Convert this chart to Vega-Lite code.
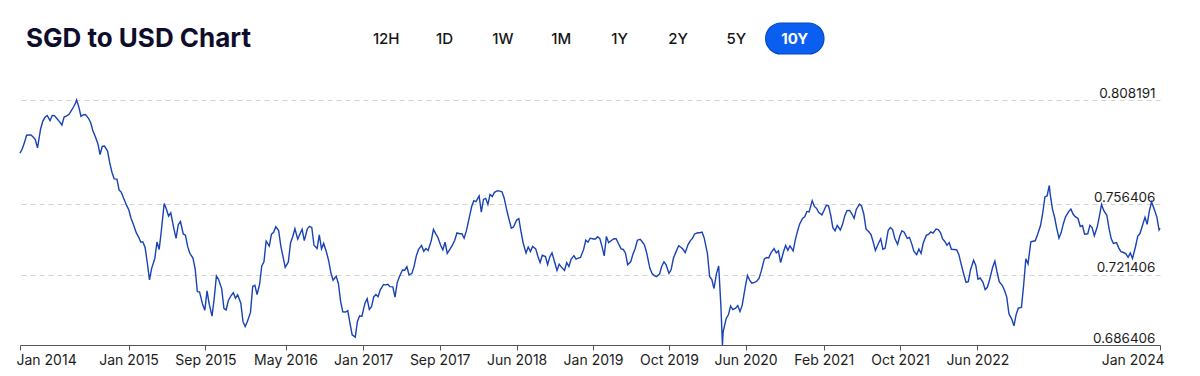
{
  "$schema": "https://vega.github.io/schema/vega-lite/v6.json",
  "padding": {"left": 16, "top": 22, "right": 40, "bottom": 8},
  "background": "white",
  "config": {"view": {"stroke": null}, "font": "Inter"},
  "datasets": {
    "buttons": [
      {"label": "12H", "selected": false}, {"label": "1D", "selected": false}, {"label": "1W", "selected": false},
      {"label": "1M", "selected": false}, {"label": "1Y", "selected": false}, {"label": "2Y", "selected": false},
      {"label": "5Y", "selected": false}, {"label": "10Y", "selected": true}
    ],
    "rates": [
{"date":"2014-01-25","rate":0.7818},{"date":"2014-02-01","rate":0.7838},{"date":"2014-02-08","rate":0.7869},{"date":"2014-02-15","rate":0.7907},{"date":"2014-02-22","rate":0.7908},
{"date":"2014-03-01","rate":0.7908},{"date":"2014-03-08","rate":0.7898},{"date":"2014-03-15","rate":0.7885},{"date":"2014-03-22","rate":0.7844},
{"date":"2014-04-01","rate":0.7939},{"date":"2014-04-08","rate":0.7977},{"date":"2014-04-15","rate":0.7996},{"date":"2014-04-22","rate":0.8005},
{"date":"2014-05-01","rate":0.7979},{"date":"2014-05-08","rate":0.8005},{"date":"2014-05-15","rate":0.8004},{"date":"2014-05-22","rate":0.7991},
{"date":"2014-06-01","rate":0.7973},{"date":"2014-06-08","rate":0.7957},{"date":"2014-06-15","rate":0.7997},{"date":"2014-06-22","rate":0.8002},
{"date":"2014-07-01","rate":0.8011},{"date":"2014-07-08","rate":0.8029},{"date":"2014-07-15","rate":0.8047},{"date":"2014-07-22","rate":0.8068},{"date":"2014-07-25","rate":0.808191},
{"date":"2014-08-01","rate":0.8048},{"date":"2014-08-08","rate":0.8001},{"date":"2014-08-15","rate":0.8008},{"date":"2014-08-22","rate":0.8010},
{"date":"2014-09-01","rate":0.7991},{"date":"2014-09-08","rate":0.7969},{"date":"2014-09-15","rate":0.7929},{"date":"2014-09-22","rate":0.7903},
{"date":"2014-10-01","rate":0.7865},{"date":"2014-10-08","rate":0.7811},{"date":"2014-10-15","rate":0.7851},{"date":"2014-10-22","rate":0.7853},
{"date":"2014-11-01","rate":0.7828},{"date":"2014-11-08","rate":0.7769},{"date":"2014-11-15","rate":0.7723},{"date":"2014-11-22","rate":0.7690},
{"date":"2014-12-01","rate":0.7689},{"date":"2014-12-08","rate":0.7634},{"date":"2014-12-15","rate":0.7623},{"date":"2014-12-22","rate":0.7595},
{"date":"2015-01-01","rate":0.7558},{"date":"2015-01-08","rate":0.7535},{"date":"2015-01-15","rate":0.7494},{"date":"2015-01-22","rate":0.7466},
{"date":"2015-02-01","rate":0.7421},{"date":"2015-02-08","rate":0.7402},{"date":"2015-02-15","rate":0.7376},{"date":"2015-02-22","rate":0.7376},
{"date":"2015-03-01","rate":0.7349},{"date":"2015-03-08","rate":0.7273},{"date":"2015-03-15","rate":0.7188},{"date":"2015-03-22","rate":0.7245},
{"date":"2015-04-01","rate":0.7294},{"date":"2015-04-08","rate":0.7376},{"date":"2015-04-15","rate":0.7339},{"date":"2015-04-22","rate":0.7433},
{"date":"2015-05-01","rate":0.7567},{"date":"2015-05-08","rate":0.7540},{"date":"2015-05-15","rate":0.7505},{"date":"2015-05-22","rate":0.7521},
{"date":"2015-06-01","rate":0.7443},{"date":"2015-06-08","rate":0.7394},{"date":"2015-06-15","rate":0.7462},{"date":"2015-06-22","rate":0.7478},
{"date":"2015-07-01","rate":0.7416},{"date":"2015-07-08","rate":0.7410},{"date":"2015-07-15","rate":0.7354},{"date":"2015-07-22","rate":0.7320},
{"date":"2015-08-01","rate":0.7296},{"date":"2015-08-08","rate":0.7243},{"date":"2015-08-15","rate":0.7129},{"date":"2015-08-22","rate":0.7128},
{"date":"2015-09-01","rate":0.7065},{"date":"2015-09-08","rate":0.7037},{"date":"2015-09-15","rate":0.7133},{"date":"2015-09-22","rate":0.7067},
{"date":"2015-10-01","rate":0.7008},{"date":"2015-10-08","rate":0.7096},{"date":"2015-10-15","rate":0.7208},{"date":"2015-10-22","rate":0.7190},
{"date":"2015-11-01","rate":0.7143},{"date":"2015-11-08","rate":0.7046},{"date":"2015-11-15","rate":0.7038},{"date":"2015-11-22","rate":0.7084},
{"date":"2015-12-01","rate":0.7110},{"date":"2015-12-08","rate":0.7124},{"date":"2015-12-15","rate":0.7097},{"date":"2015-12-22","rate":0.7114},
{"date":"2016-01-01","rate":0.7072},{"date":"2016-01-08","rate":0.6980},{"date":"2016-01-15","rate":0.6956},{"date":"2016-01-22","rate":0.6981},
{"date":"2016-02-01","rate":0.7026},{"date":"2016-02-08","rate":0.7155},{"date":"2016-02-15","rate":0.7161},{"date":"2016-02-22","rate":0.7115},
{"date":"2016-03-01","rate":0.7165},{"date":"2016-03-08","rate":0.7257},{"date":"2016-03-15","rate":0.7278},{"date":"2016-03-22","rate":0.7381},
{"date":"2016-04-01","rate":0.7356},{"date":"2016-04-08","rate":0.7415},{"date":"2016-04-15","rate":0.7424},{"date":"2016-04-22","rate":0.7452},
{"date":"2016-05-01","rate":0.7433},{"date":"2016-05-08","rate":0.7356},{"date":"2016-05-15","rate":0.7303},{"date":"2016-05-22","rate":0.7250},
{"date":"2016-06-01","rate":0.7277},{"date":"2016-06-08","rate":0.7371},{"date":"2016-06-15","rate":0.7402},{"date":"2016-06-22","rate":0.7442},
{"date":"2016-07-01","rate":0.7390},{"date":"2016-07-08","rate":0.7416},{"date":"2016-07-15","rate":0.7439},{"date":"2016-07-22","rate":0.7383},
{"date":"2016-08-01","rate":0.7443},{"date":"2016-08-08","rate":0.7454},{"date":"2016-08-15","rate":0.7447},{"date":"2016-08-22","rate":0.7360},
{"date":"2016-09-01","rate":0.7344},{"date":"2016-09-08","rate":0.7412},{"date":"2016-09-15","rate":0.7342},{"date":"2016-09-22","rate":0.7369},
{"date":"2016-10-01","rate":0.7325},{"date":"2016-10-08","rate":0.7282},{"date":"2016-10-15","rate":0.7223},{"date":"2016-10-22","rate":0.7186},
{"date":"2016-11-01","rate":0.7206},{"date":"2016-11-08","rate":0.7170},{"date":"2016-11-15","rate":0.7082},{"date":"2016-11-22","rate":0.7029},
{"date":"2016-12-01","rate":0.7028},{"date":"2016-12-08","rate":0.7035},{"date":"2016-12-15","rate":0.6973},{"date":"2016-12-22","rate":0.6915},
{"date":"2017-01-01","rate":0.6903},{"date":"2017-01-08","rate":0.6982},{"date":"2017-01-15","rate":0.7009},{"date":"2017-01-22","rate":0.7006},
{"date":"2017-02-01","rate":0.7072},{"date":"2017-02-08","rate":0.7094},{"date":"2017-02-15","rate":0.7041},{"date":"2017-02-22","rate":0.7054},
{"date":"2017-03-01","rate":0.7103},{"date":"2017-03-08","rate":0.7115},{"date":"2017-03-15","rate":0.7104},{"date":"2017-03-22","rate":0.7138},
{"date":"2017-04-01","rate":0.7164},{"date":"2017-04-08","rate":0.7163},{"date":"2017-04-15","rate":0.7166},{"date":"2017-04-22","rate":0.7154},
{"date":"2017-05-01","rate":0.7153},{"date":"2017-05-08","rate":0.7102},{"date":"2017-05-15","rate":0.7173},{"date":"2017-05-22","rate":0.7203},
{"date":"2017-06-01","rate":0.7237},{"date":"2017-06-08","rate":0.7236},{"date":"2017-06-15","rate":0.7253},{"date":"2017-06-22","rate":0.7212},
{"date":"2017-07-01","rate":0.7220},{"date":"2017-07-08","rate":0.7255},{"date":"2017-07-15","rate":0.7306},{"date":"2017-07-22","rate":0.7338},
{"date":"2017-08-01","rate":0.7359},{"date":"2017-08-08","rate":0.7330},{"date":"2017-08-15","rate":0.7344},{"date":"2017-08-22","rate":0.7334},
{"date":"2017-09-01","rate":0.7383},{"date":"2017-09-08","rate":0.7439},{"date":"2017-09-15","rate":0.7418},{"date":"2017-09-22","rate":0.7400},
{"date":"2017-10-01","rate":0.7360},{"date":"2017-10-08","rate":0.7337},{"date":"2017-10-15","rate":0.7375},{"date":"2017-10-22","rate":0.7319},
{"date":"2017-11-01","rate":0.7343},{"date":"2017-11-08","rate":0.7362},{"date":"2017-11-15","rate":0.7385},{"date":"2017-11-22","rate":0.7421},
{"date":"2017-12-01","rate":0.7417},{"date":"2017-12-08","rate":0.7417},{"date":"2017-12-15","rate":0.7395},{"date":"2017-12-22","rate":0.7430},
{"date":"2018-01-01","rate":0.7501},{"date":"2018-01-08","rate":0.7551},{"date":"2018-01-15","rate":0.7581},{"date":"2018-01-22","rate":0.7577},
{"date":"2018-02-01","rate":0.7605},{"date":"2018-02-08","rate":0.7525},{"date":"2018-02-15","rate":0.7588},{"date":"2018-02-22","rate":0.7593},
{"date":"2018-03-01","rate":0.7563},{"date":"2018-03-08","rate":0.7613},{"date":"2018-03-15","rate":0.7602},{"date":"2018-03-22","rate":0.7623},
{"date":"2018-04-01","rate":0.7631},{"date":"2018-04-08","rate":0.7629},{"date":"2018-04-15","rate":0.7626},{"date":"2018-04-22","rate":0.7595},
{"date":"2018-05-01","rate":0.7530},{"date":"2018-05-08","rate":0.7486},{"date":"2018-05-15","rate":0.7445},{"date":"2018-05-22","rate":0.7451},
{"date":"2018-06-01","rate":0.7485},{"date":"2018-06-08","rate":0.7492},{"date":"2018-06-15","rate":0.7426},{"date":"2018-06-22","rate":0.7370},
{"date":"2018-07-01","rate":0.7321},{"date":"2018-07-08","rate":0.7351},{"date":"2018-07-15","rate":0.7329},{"date":"2018-07-22","rate":0.7354},
{"date":"2018-08-01","rate":0.7342},{"date":"2018-08-08","rate":0.7304},{"date":"2018-08-15","rate":0.7274},{"date":"2018-08-22","rate":0.7310},
{"date":"2018-09-01","rate":0.7304},{"date":"2018-09-08","rate":0.7264},{"date":"2018-09-15","rate":0.7302},{"date":"2018-09-22","rate":0.7322},
{"date":"2018-10-01","rate":0.7273},{"date":"2018-10-08","rate":0.7235},{"date":"2018-10-15","rate":0.7266},{"date":"2018-10-22","rate":0.7251},
{"date":"2018-11-01","rate":0.7235},{"date":"2018-11-08","rate":0.7274},{"date":"2018-11-15","rate":0.7254},{"date":"2018-11-22","rate":0.7290},
{"date":"2018-12-01","rate":0.7308},{"date":"2018-12-08","rate":0.7291},{"date":"2018-12-15","rate":0.7296},{"date":"2018-12-22","rate":0.7299},
{"date":"2019-01-01","rate":0.7338},{"date":"2019-01-08","rate":0.7385},{"date":"2019-01-15","rate":0.7375},{"date":"2019-01-22","rate":0.7395},
{"date":"2019-02-01","rate":0.7391},{"date":"2019-02-08","rate":0.7391},{"date":"2019-02-15","rate":0.7402},{"date":"2019-02-22","rate":0.7393},
{"date":"2019-03-01","rate":0.7353},{"date":"2019-03-08","rate":0.7307},{"date":"2019-03-15","rate":0.7404},{"date":"2019-03-22","rate":0.7373},
{"date":"2019-04-01","rate":0.7385},{"date":"2019-04-08","rate":0.7392},{"date":"2019-04-15","rate":0.7392},{"date":"2019-04-22","rate":0.7370},
{"date":"2019-05-01","rate":0.7342},{"date":"2019-05-08","rate":0.7339},{"date":"2019-05-15","rate":0.7320},{"date":"2019-05-22","rate":0.7263},
{"date":"2019-06-01","rate":0.7279},{"date":"2019-06-08","rate":0.7317},{"date":"2019-06-15","rate":0.7344},{"date":"2019-06-22","rate":0.7385},
{"date":"2019-07-01","rate":0.7389},{"date":"2019-07-08","rate":0.7376},{"date":"2019-07-15","rate":0.7360},{"date":"2019-07-22","rate":0.7320},
{"date":"2019-08-01","rate":0.7245},{"date":"2019-08-08","rate":0.7219},{"date":"2019-08-15","rate":0.7209},{"date":"2019-08-22","rate":0.7204},
{"date":"2019-09-01","rate":0.7217},{"date":"2019-09-08","rate":0.7256},{"date":"2019-09-15","rate":0.7277},{"date":"2019-09-22","rate":0.7262},
{"date":"2019-10-01","rate":0.7220},{"date":"2019-10-08","rate":0.7239},{"date":"2019-10-15","rate":0.7294},{"date":"2019-10-22","rate":0.7322},
{"date":"2019-11-01","rate":0.7357},{"date":"2019-11-08","rate":0.7350},{"date":"2019-11-15","rate":0.7340},{"date":"2019-11-22","rate":0.7323},
{"date":"2019-12-01","rate":0.7363},{"date":"2019-12-08","rate":0.7382},{"date":"2019-12-15","rate":0.7394},{"date":"2019-12-22","rate":0.7416},
{"date":"2020-01-01","rate":0.7422},{"date":"2020-01-08","rate":0.7422},{"date":"2020-01-15","rate":0.7425},{"date":"2020-01-22","rate":0.7394},
{"date":"2020-02-01","rate":0.7318},{"date":"2020-02-08","rate":0.7205},{"date":"2020-02-15","rate":0.7189},{"date":"2020-02-22","rate":0.7145},
{"date":"2020-03-01","rate":0.7220},{"date":"2020-03-08","rate":0.7257},{"date":"2020-03-15","rate":0.7058},{"date":"2020-03-20","rate":0.686406},{"date":"2020-03-22","rate":0.6928},
{"date":"2020-04-01","rate":0.6996},{"date":"2020-04-08","rate":0.7014},{"date":"2020-04-15","rate":0.7058},{"date":"2020-04-22","rate":0.7040},
{"date":"2020-05-01","rate":0.7047},{"date":"2020-05-08","rate":0.7060},{"date":"2020-05-15","rate":0.7031},{"date":"2020-05-22","rate":0.7061},
{"date":"2020-06-01","rate":0.7153},{"date":"2020-06-08","rate":0.7210},{"date":"2020-06-15","rate":0.7187},{"date":"2020-06-22","rate":0.7171},
{"date":"2020-07-01","rate":0.7175},{"date":"2020-07-08","rate":0.7182},{"date":"2020-07-15","rate":0.7195},{"date":"2020-07-22","rate":0.7231},
{"date":"2020-08-01","rate":0.7292},{"date":"2020-08-08","rate":0.7299},{"date":"2020-08-15","rate":0.7297},{"date":"2020-08-22","rate":0.7322},
{"date":"2020-09-01","rate":0.7343},{"date":"2020-09-08","rate":0.7322},{"date":"2020-09-15","rate":0.7332},{"date":"2020-09-22","rate":0.7274},
{"date":"2020-10-01","rate":0.7326},{"date":"2020-10-08","rate":0.7359},{"date":"2020-10-15","rate":0.7335},{"date":"2020-10-22","rate":0.7357},
{"date":"2020-11-01","rate":0.7332},{"date":"2020-11-08","rate":0.7387},{"date":"2020-11-15","rate":0.7430},{"date":"2020-11-22","rate":0.7466},
{"date":"2020-12-01","rate":0.7493},{"date":"2020-12-08","rate":0.7501},{"date":"2020-12-15","rate":0.7528},{"date":"2020-12-22","rate":0.7526},
{"date":"2021-01-01","rate":0.7581},{"date":"2021-01-08","rate":0.7553},{"date":"2021-01-15","rate":0.7543},{"date":"2021-01-22","rate":0.7522},
{"date":"2021-02-01","rate":0.7511},{"date":"2021-02-08","rate":0.7534},{"date":"2021-02-15","rate":0.7559},{"date":"2021-02-22","rate":0.7557},
{"date":"2021-03-01","rate":0.7511},{"date":"2021-03-08","rate":0.7447},{"date":"2021-03-15","rate":0.7432},{"date":"2021-03-22","rate":0.7458},
{"date":"2021-04-01","rate":0.7436},{"date":"2021-04-08","rate":0.7464},{"date":"2021-04-15","rate":0.7506},{"date":"2021-04-22","rate":0.7532},
{"date":"2021-05-01","rate":0.7533},{"date":"2021-05-08","rate":0.7515},{"date":"2021-05-15","rate":0.7494},{"date":"2021-05-22","rate":0.7538},
{"date":"2021-06-01","rate":0.7564},{"date":"2021-06-08","rate":0.7554},{"date":"2021-06-15","rate":0.7514},{"date":"2021-06-22","rate":0.7441},
{"date":"2021-07-01","rate":0.7427},{"date":"2021-07-08","rate":0.7413},{"date":"2021-07-15","rate":0.7376},{"date":"2021-07-22","rate":0.7334},
{"date":"2021-08-01","rate":0.7370},{"date":"2021-08-08","rate":0.7392},{"date":"2021-08-15","rate":0.7340},{"date":"2021-08-22","rate":0.7345},
{"date":"2021-09-01","rate":0.7434},{"date":"2021-09-08","rate":0.7448},{"date":"2021-09-15","rate":0.7438},{"date":"2021-09-22","rate":0.7395},
{"date":"2021-10-01","rate":0.7364},{"date":"2021-10-08","rate":0.7406},{"date":"2021-10-15","rate":0.7432},{"date":"2021-10-22","rate":0.7425},
{"date":"2021-11-01","rate":0.7394},{"date":"2021-11-08","rate":0.7399},{"date":"2021-11-15","rate":0.7368},{"date":"2021-11-22","rate":0.7330},
{"date":"2021-12-01","rate":0.7313},{"date":"2021-12-08","rate":0.7341},{"date":"2021-12-15","rate":0.7319},{"date":"2021-12-22","rate":0.7371},
{"date":"2022-01-01","rate":0.7410},{"date":"2022-01-08","rate":0.7414},{"date":"2022-01-15","rate":0.7426},{"date":"2022-01-22","rate":0.7420},
{"date":"2022-02-01","rate":0.7440},{"date":"2022-02-08","rate":0.7438},{"date":"2022-02-15","rate":0.7423},{"date":"2022-02-22","rate":0.7391},
{"date":"2022-03-01","rate":0.7379},{"date":"2022-03-08","rate":0.7360},{"date":"2022-03-15","rate":0.7373},{"date":"2022-03-22","rate":0.7340},
{"date":"2022-04-01","rate":0.7339},{"date":"2022-04-08","rate":0.7337},{"date":"2022-04-15","rate":0.7313},{"date":"2022-04-22","rate":0.7267},
{"date":"2022-05-01","rate":0.7213},{"date":"2022-05-08","rate":0.7175},{"date":"2022-05-15","rate":0.7179},{"date":"2022-05-22","rate":0.7237},
{"date":"2022-06-01","rate":0.7285},{"date":"2022-06-08","rate":0.7260},{"date":"2022-06-15","rate":0.7191},{"date":"2022-06-22","rate":0.7197},
{"date":"2022-07-01","rate":0.7176},{"date":"2022-07-08","rate":0.7139},{"date":"2022-07-15","rate":0.7151},{"date":"2022-07-22","rate":0.7187},
{"date":"2022-08-01","rate":0.7251},{"date":"2022-08-08","rate":0.7281},{"date":"2022-08-15","rate":0.7227},{"date":"2022-08-22","rate":0.7179},
{"date":"2022-09-01","rate":0.7159},{"date":"2022-09-08","rate":0.7135},{"date":"2022-09-15","rate":0.7102},{"date":"2022-09-22","rate":0.7019},
{"date":"2022-10-01","rate":0.6993},{"date":"2022-10-08","rate":0.6959},{"date":"2022-10-15","rate":0.7015},{"date":"2022-10-22","rate":0.7047},
{"date":"2022-11-01","rate":0.7051},{"date":"2022-11-08","rate":0.7161},{"date":"2022-11-15","rate":0.7293},{"date":"2022-11-22","rate":0.7267},
{"date":"2022-12-01","rate":0.7377},{"date":"2022-12-08","rate":0.7380},{"date":"2022-12-15","rate":0.7382},{"date":"2022-12-22","rate":0.7411},
{"date":"2023-01-01","rate":0.7458},{"date":"2023-01-08","rate":0.7519},{"date":"2023-01-15","rate":0.7600},{"date":"2023-01-22","rate":0.7605},{"date":"2023-01-29","rate":0.7657},
{"date":"2023-02-01","rate":0.7613},{"date":"2023-02-08","rate":0.7541},{"date":"2023-02-15","rate":0.7499},{"date":"2023-02-22","rate":0.7443},
{"date":"2023-03-01","rate":0.7395},{"date":"2023-03-08","rate":0.7423},{"date":"2023-03-15","rate":0.7467},{"date":"2023-03-22","rate":0.7501},
{"date":"2023-04-01","rate":0.7527},{"date":"2023-04-08","rate":0.7540},{"date":"2023-04-15","rate":0.7515},{"date":"2023-04-22","rate":0.7502},
{"date":"2023-05-01","rate":0.7493},{"date":"2023-05-08","rate":0.7453},{"date":"2023-05-15","rate":0.7458},{"date":"2023-05-22","rate":0.7415},
{"date":"2023-06-01","rate":0.7417},{"date":"2023-06-08","rate":0.7459},{"date":"2023-06-15","rate":0.7448},{"date":"2023-06-22","rate":0.7407},
{"date":"2023-07-01","rate":0.7449},{"date":"2023-07-08","rate":0.7502},{"date":"2023-07-15","rate":0.7563},{"date":"2023-07-22","rate":0.7533},
{"date":"2023-08-01","rate":0.7509},{"date":"2023-08-08","rate":0.7444},{"date":"2023-08-15","rate":0.7392},{"date":"2023-08-22","rate":0.7369},
{"date":"2023-09-01","rate":0.7373},{"date":"2023-09-08","rate":0.7347},{"date":"2023-09-15","rate":0.7328},{"date":"2023-09-22","rate":0.7325},
{"date":"2023-10-01","rate":0.7317},{"date":"2023-10-08","rate":0.7300},{"date":"2023-10-15","rate":0.7322},{"date":"2023-10-22","rate":0.7294},
{"date":"2023-11-01","rate":0.7355},{"date":"2023-11-08","rate":0.7406},{"date":"2023-11-15","rate":0.7418},{"date":"2023-11-22","rate":0.7453},
{"date":"2023-12-01","rate":0.7499},{"date":"2023-12-08","rate":0.7464},{"date":"2023-12-15","rate":0.7531},{"date":"2023-12-22","rate":0.7575},
{"date":"2024-01-01","rate":0.7533},{"date":"2024-01-08","rate":0.7500},{"date":"2024-01-15","rate":0.7436},{"date":"2024-01-18","rate":0.7445}
    ]
  },
  "spacing": 31,
  "vconcat": [
    {
      "width": 1140,
      "height": 31,
      "layer": [
        {
          "data": {"values": [{"title": "SGD to USD Chart"}]},
          "mark": {"type": "text", "align": "left", "baseline": "middle", "font": "Inter", "fontSize": 26, "fontWeight": 700, "color": "#0e0e2c", "dx": 6},
          "encoding": {
            "x": {"field": "title", "type": "nominal", "scale": {"type": "point", "paddingOuter": 0, "align": 0}, "axis": null},
            "text": {"field": "title"}
          }
        },
        {
          "data": {"name": "buttons"},
          "encoding": {
            "x": {"field": "label", "type": "nominal", "scale": {"type": "band", "domain": ["12H", "1D", "1W", "1M", "1Y", "2Y", "5Y", "10Y"], "range": [337, 804], "paddingInner": 0, "paddingOuter": 0}, "axis": null}
          },
          "layer": [
            {
              "transform": [{"filter": "datum.selected"}],
              "mark": {"type": "bar", "cornerRadius": 15.5, "color": "#0b5ff0", "stroke": "#0646c4", "strokeWidth": 1.2}
            },
            {
              "transform": [{"filter": "!datum.selected"}],
              "mark": {"type": "text", "baseline": "middle", "font": "Inter", "fontSize": 15, "fontWeight": 500, "color": "#161616"},
              "encoding": {"text": {"field": "label"}}
            },
            {
              "transform": [{"filter": "datum.selected"}],
              "mark": {"type": "text", "baseline": "middle", "font": "Inter", "fontSize": 15, "fontWeight": 700, "color": "#ffffff"},
              "encoding": {"text": {"field": "label"}}
            }
          ]
        }
      ],
      "resolve": {"scale": {"x": "independent"}}
    },
    {
      "width": 1140,
      "height": 245,
      "data": {"name": "rates"},
      "mark": {"type": "line", "color": "#1842b5", "strokeWidth": 1.4},
      "encoding": {
        "x": {
          "field": "date", "type": "temporal",
          "scale": {"type": "utc", "domain": [{"year": 2014, "month": 1, "date": 25, "utc": true}, {"year": 2024, "month": 1, "date": 18, "utc": true}]},
          "axis": {
            "title": null, "grid": false,
            "labelExpr": "utcFormat(datum.value, '%b %Y')",
            "values": [
              {"year": 2014, "month": 1, "date": 25, "utc": true},
              {"year": 2015, "month": 1, "date": 7, "utc": true},
              {"year": 2015, "month": 9, "date": 10, "utc": true},
              {"year": 2016, "month": 5, "date": 23, "utc": true},
              {"year": 2017, "month": 1, "date": 26, "utc": true},
              {"year": 2017, "month": 9, "date": 28, "utc": true},
              {"year": 2018, "month": 6, "date": 1, "utc": true},
              {"year": 2019, "month": 1, "date": 31, "utc": true},
              {"year": 2019, "month": 10, "date": 1, "utc": true},
              {"year": 2020, "month": 6, "date": 2, "utc": true},
              {"year": 2021, "month": 2, "date": 7, "utc": true},
              {"year": 2021, "month": 10, "date": 9, "utc": true},
              {"year": 2022, "month": 6, "date": 13, "utc": true},
              {"year": 2024, "month": 1, "date": 18, "utc": true}
            ],
            "labelFlush": true, "labelFlushOffset": 4, "labelOverlap": false, "labelBound": false,
            "labelFont": "Inter", "labelFontSize": 14, "labelColor": "#1c1c1c", "labelPadding": 3,
            "domainColor": "#555555", "domainWidth": 1, "tickColor": "#555555", "tickSize": 5, "tickWidth": 1
          }
        },
        "y": {
          "field": "rate", "type": "quantitative",
          "scale": {"domain": [0.686406, 0.808191], "zero": false, "nice": false},
          "axis": {
            "orient": "right", "title": null, "values": [0.686406, 0.721406, 0.756406, 0.808191], "format": ".6f",
            "domain": false, "ticks": false, "tickSize": 0,
            "grid": true, "gridColor": "#d4d4d4", "gridDash": [5, 4], "gridWidth": 1,
            "labelAlign": "right", "labelBaseline": "alphabetic", "labelOffset": -3, "labelPadding": -5,
            "labelFont": "Inter", "labelFontSize": 13.5, "labelColor": "#1c1c1c", "labelFlush": false, "labelOverlap": false, "labelBound": false
          }
        }
      }
    }
  ]
}
